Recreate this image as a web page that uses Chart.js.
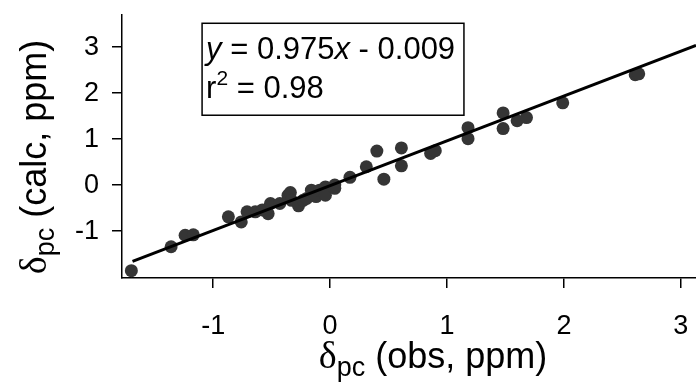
<!DOCTYPE html>
<html>
<head>
<meta charset="utf-8">
<script src="https://cdn.jsdelivr.net/npm/chart.js@4.4.1/dist/chart.umd.min.js"></script>
<style>
  html, body { margin: 0; padding: 0; background: #fff; }
  #wrap { width: 696px; height: 387px; }
</style>
</head>
<body>
<div id="wrap"><canvas id="fitChart" width="696" height="387"></canvas></div>
<script>
const obsShift = [
  -1.70, -1.36, -1.24, -1.17, -0.87, -0.76, -0.71, -0.64, -0.58, -0.53,
  -0.51, -0.43, -0.36, -0.34, -0.33, -0.27, -0.23, -0.20, -0.16, -0.14,
  -0.12, -0.09, -0.04, -0.04, 0.04, 0.04, 0.17, 0.31, 0.40, 0.46,
  0.61, 0.61, 0.86, 0.90, 1.18, 1.18, 1.48, 1.48, 1.60, 1.68,
  1.99, 2.61, 2.64
];
const calcShift = [
  -1.86, -1.34, -1.09, -1.08, -0.69, -0.80, -0.58, -0.58, -0.54, -0.62,
  -0.40, -0.40, -0.22, -0.16, -0.33, -0.45, -0.33, -0.29, -0.11, -0.15,
  -0.25, -0.11, -0.04, -0.22, 0.00, -0.07, 0.17, 0.40, 0.74, 0.13,
  0.81, 0.42, 0.69, 0.75, 1.25, 1.01, 1.57, 1.23, 1.40, 1.47,
  1.79, 2.40, 2.42
];
// regression line end points (y = 0.975x - 0.009)
const fitX = [-1.69, 3.13];
const fitY = [-1.66, 3.04];

const xTicks = [-1, 0, 1, 2, 3];
const yTicks = [-1, 0, 1, 2, 3];

const SANS = "'Liberation Sans', Arial, sans-serif";
const SERIF = "'Liberation Serif', 'Times New Roman', serif";

const pairs = (xs, ys) => xs.map((x, i) => ({ x: x, y: ys[i] }));

// draw a run of [text, font, dy] pieces from (x, y) on the baseline
const drawPieces = (ctx, pieces, x, y) => {
  let cx = x;
  pieces.forEach(([txt, font, dy]) => {
    ctx.font = font;
    ctx.fillText(txt, cx, y + (dy || 0));
    cx += ctx.measureText(txt).width;
  });
  return cx - x;
};
const piecesWidth = (ctx, pieces) => {
  let w = 0;
  pieces.forEach(([txt, font]) => { ctx.font = font; w += ctx.measureText(txt).width; });
  return w;
};

const decorPlugin = {
  id: "decor",
  afterDraw(chart) {
    const ctx = chart.ctx;
    const xs = chart.scales.x, ys = chart.scales.y;
    ctx.save();
    ctx.fillStyle = "#000";
    ctx.textBaseline = "alphabetic";
    ctx.textAlign = "left";

    // x title
    const xt = [["δ", "38px " + SERIF], ["pc", "27px " + SANS, 8], [" (obs, ppm)", "36px " + SANS]];
    const xw = piecesWidth(ctx, xt);
    drawPieces(ctx, xt, 433 - xw / 2, 368);

    // y title (rotated)
    const yt = [["δ", "38px " + SERIF], ["pc", "27px " + SANS, 8], [" (calc, ppm)", "36px " + SANS]];
    const yw = piecesWidth(ctx, yt);
    ctx.save();
    ctx.translate(46, 157);
    ctx.rotate(-Math.PI / 2);
    drawPieces(ctx, yt, -yw / 2, 0);
    ctx.restore();

    // fit box
    const bx = xs.getPixelForValue(-1.095), by = ys.getPixelForValue(3.52);
    const bx2 = xs.getPixelForValue(1.145), by2 = ys.getPixelForValue(1.52);
    ctx.fillStyle = "#fff";
    ctx.fillRect(bx, by, bx2 - bx, by2 - by);
    ctx.strokeStyle = "#000";
    ctx.lineWidth = 1.5;
    ctx.strokeRect(bx, by, bx2 - bx, by2 - by);
    ctx.fillStyle = "#000";
    const f = "31px " + SANS, fi = "italic 31px " + SANS;
    drawPieces(ctx, [["y", fi], [" = 0.975", f], ["x", fi], [" - 0.009", f]], bx + 4, by + 36);
    drawPieces(ctx, [["r", f], ["2", "21px " + SANS, -13], [" = 0.98", f]], bx + 4, by + 75);
    ctx.restore();
  }
};

const axisCommon = {
  type: "linear",
  grid: { display: true, drawOnChartArea: false, drawTicks: true, tickLength: 10, color: "#000", lineWidth: 1.5 },
  border: { display: true, color: "#000", width: 1.5 },
  ticks: { color: "#000", font: { family: SANS, size: 27 }, stepSize: 1, includeBounds: false }
};

const noPad = (s) => { s.paddingTop = 0; s.paddingBottom = 0; s.paddingLeft = 0; s.paddingRight = 0; };

new Chart(document.getElementById("fitChart"), {
  type: "scatter",
  data: {
    datasets: [
      {
        label: "fit",
        type: "line",
        data: pairs(fitX, fitY),
        borderColor: "#000",
        borderWidth: 3,
        pointRadius: 0,
        fill: false,
        order: 0
      },
      {
        label: "residues",
        data: pairs(obsShift, calcShift),
        backgroundColor: "#353535",
        borderWidth: 0,
        pointRadius: 6.5,
        pointHoverRadius: 6.5,
        order: 1
      }
    ]
  },
  options: {
    responsive: false,
    animation: false,
    devicePixelRatio: 1,
    layout: { autoPadding: false, padding: { top: 15, right: 0, left: 0, bottom: 0 } },
    plugins: { legend: { display: false }, tooltip: { enabled: false } },
    scales: {
      x: {
        ...axisCommon,
        min: -1.78, max: 3.13,
        ticks: { ...axisCommon.ticks, padding: 22, maxRotation: 0 },
        afterBuildTicks: (s) => { s.ticks = xTicks.map((v) => ({ value: v })); },
        afterFit: (s) => { s.height = 109; noPad(s); }
      },
      y: {
        ...axisCommon,
        min: -2.02, max: 3.70,
        ticks: { ...axisCommon.ticks, padding: 13 },
        afterBuildTicks: (s) => { s.ticks = yTicks.map((v) => ({ value: v })); },
        afterFit: (s) => { s.width = 122; noPad(s); }
      }
    }
  },
  plugins: [decorPlugin]
});
</script>
</body>
</html>
